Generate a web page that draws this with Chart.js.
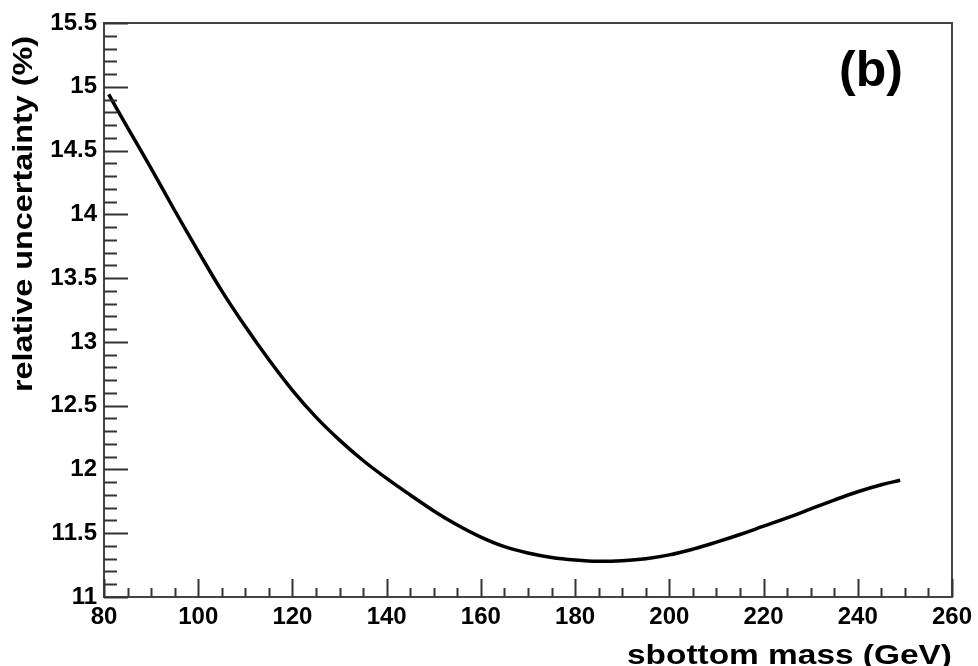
<!DOCTYPE html>
<html><head><meta charset="utf-8">
<script src="https://cdn.jsdelivr.net/npm/chart.js@4/dist/chart.umd.min.js"></script>
<style>html,body{margin:0;padding:0;background:#fff}canvas{display:block}</style>
</head><body><canvas id="c" width="978" height="666"></canvas>
<script>
const massGeV = [81,85,90,95,100,105,110,115,120,125,130,135,140,145,150,155,160,165,170,175,180,185,190,195,200,205,210,215,220,225,230,235,240,245,249];
const relUncertainty = [14.94,14.68,14.36,14.03,13.71,13.40,13.12,12.86,12.62,12.41,12.23,12.07,11.93,11.80,11.675,11.565,11.47,11.395,11.345,11.31,11.29,11.28,11.285,11.30,11.33,11.375,11.43,11.49,11.555,11.62,11.69,11.76,11.825,11.88,11.915];
const xTickLabels = ['80','100','120','140','160','180','200','220','240','260'];
const yTickLabels = ['11','11.5','12','12.5','13','13.5','14','14.5','15','15.5'];
const xTitle = 'sbottom mass (GeV)';
const yTitle = 'relative uncertainty (%)';
const panelLabel = '(b)';

const FONT = '"Liberation Sans", Arial, Helvetica, sans-serif';

function findLabel(list, v){
  for (const l of list){ if (Math.abs(parseFloat(l) - v) < 1e-6) return l; }
  return '';
}

function drawStretched(ctx, text, font, targetW, x, y, align){
  ctx.font = font;
  const w = ctx.measureText(text).width;
  const s = targetW / w;
  ctx.save();
  ctx.translate(x, y);
  ctx.scale(s, 1);
  ctx.textAlign = align;
  ctx.textBaseline = 'alphabetic';
  ctx.fillText(text, 0, 0);
  ctx.restore();
}

const framePlugin = {
  id: 'frame',
  afterDraw(chart){
    const ctx = chart.ctx, ca = chart.chartArea;
    const xs = chart.scales.x, ys = chart.scales.y;
    ctx.save();
    ctx.strokeStyle = '#4a4040';
    ctx.lineWidth = 2;
    ctx.strokeRect(ca.left, ca.top, ca.right - ca.left, ca.bottom - ca.top);
    ctx.lineWidth = 2;
    ctx.strokeStyle = '#333';
    xs.ticks.forEach(t => {
      const px = Math.round(xs.getPixelForValue(t.value)) + 0.5;
      const major = findLabel(xTickLabels, t.value) !== '';
      const len = major ? 18 : 9;
      ctx.beginPath(); ctx.moveTo(px, ca.bottom); ctx.lineTo(px, ca.bottom - len); ctx.stroke();
    });
    ys.ticks.forEach(t => {
      const py = Math.round(ys.getPixelForValue(t.value)) + 0.5;
      const major = findLabel(yTickLabels, t.value) !== '';
      const len = major ? 24 : 13;
      ctx.beginPath(); ctx.moveTo(ca.left, py); ctx.lineTo(ca.left + len, py); ctx.stroke();
    });
    ctx.fillStyle = '#000';
    drawStretched(ctx, xTitle, 'bold 27px ' + FONT, 325, ca.right, 664, 'right');
    ctx.save();
    ctx.translate(32, 36);
    ctx.rotate(-Math.PI/2);
    drawStretched(ctx, yTitle, 'bold 28px ' + FONT, 356, 0, 0, 'right');
    ctx.restore();
    ctx.font = 'bold 50px ' + FONT;
    ctx.textAlign = 'center';
    ctx.textBaseline = 'middle';
    ctx.fillText(panelLabel, 871, 72);
    ctx.restore();
  }
};

new Chart(document.getElementById('c'), {
  type: 'line',
  data: {
    labels: massGeV,
    datasets: [{
      data: massGeV.map((m, i) => ({x: m, y: relUncertainty[i]})),
      borderColor: '#000',
      borderWidth: 3.5,
      pointRadius: 0,
      fill: false,
      tension: 0.4
    }]
  },
  options: {
    responsive: false,
    animation: false,
    devicePixelRatio: 1,
    layout: { padding: { left: 0, top: 23, right: 20, bottom: 0 } },
    plugins: { legend: { display: false }, tooltip: { enabled: false }, title: { display: false } },
    scales: {
      x: {
        type: 'linear', min: 80, max: 260,
        grid: { display: false, drawTicks: false },
        border: { display: false },
        afterFit(s){ s.height = 69; },
        ticks: {
          stepSize: 5, autoSkip: false, maxRotation: 0, maxTicksLimit: 100, padding: 6,
          color: '#000', font: { family: FONT, size: 24, weight: 'bold' },
          callback: v => findLabel(xTickLabels, v)
        }
      },
      y: {
        type: 'linear', min: 11, max: 15.5,
        grid: { display: false, drawTicks: false },
        border: { display: false },
        afterFit(s){ s.width = 104; },
        ticks: {
          stepSize: 0.1, autoSkip: false, maxTicksLimit: 100, padding: 7,
          color: '#000', font: { family: FONT, size: 24, weight: 'bold' },
          callback: v => findLabel(yTickLabels, v)
        }
      }
    }
  },
  plugins: [framePlugin]
});
</script>
</body></html>
